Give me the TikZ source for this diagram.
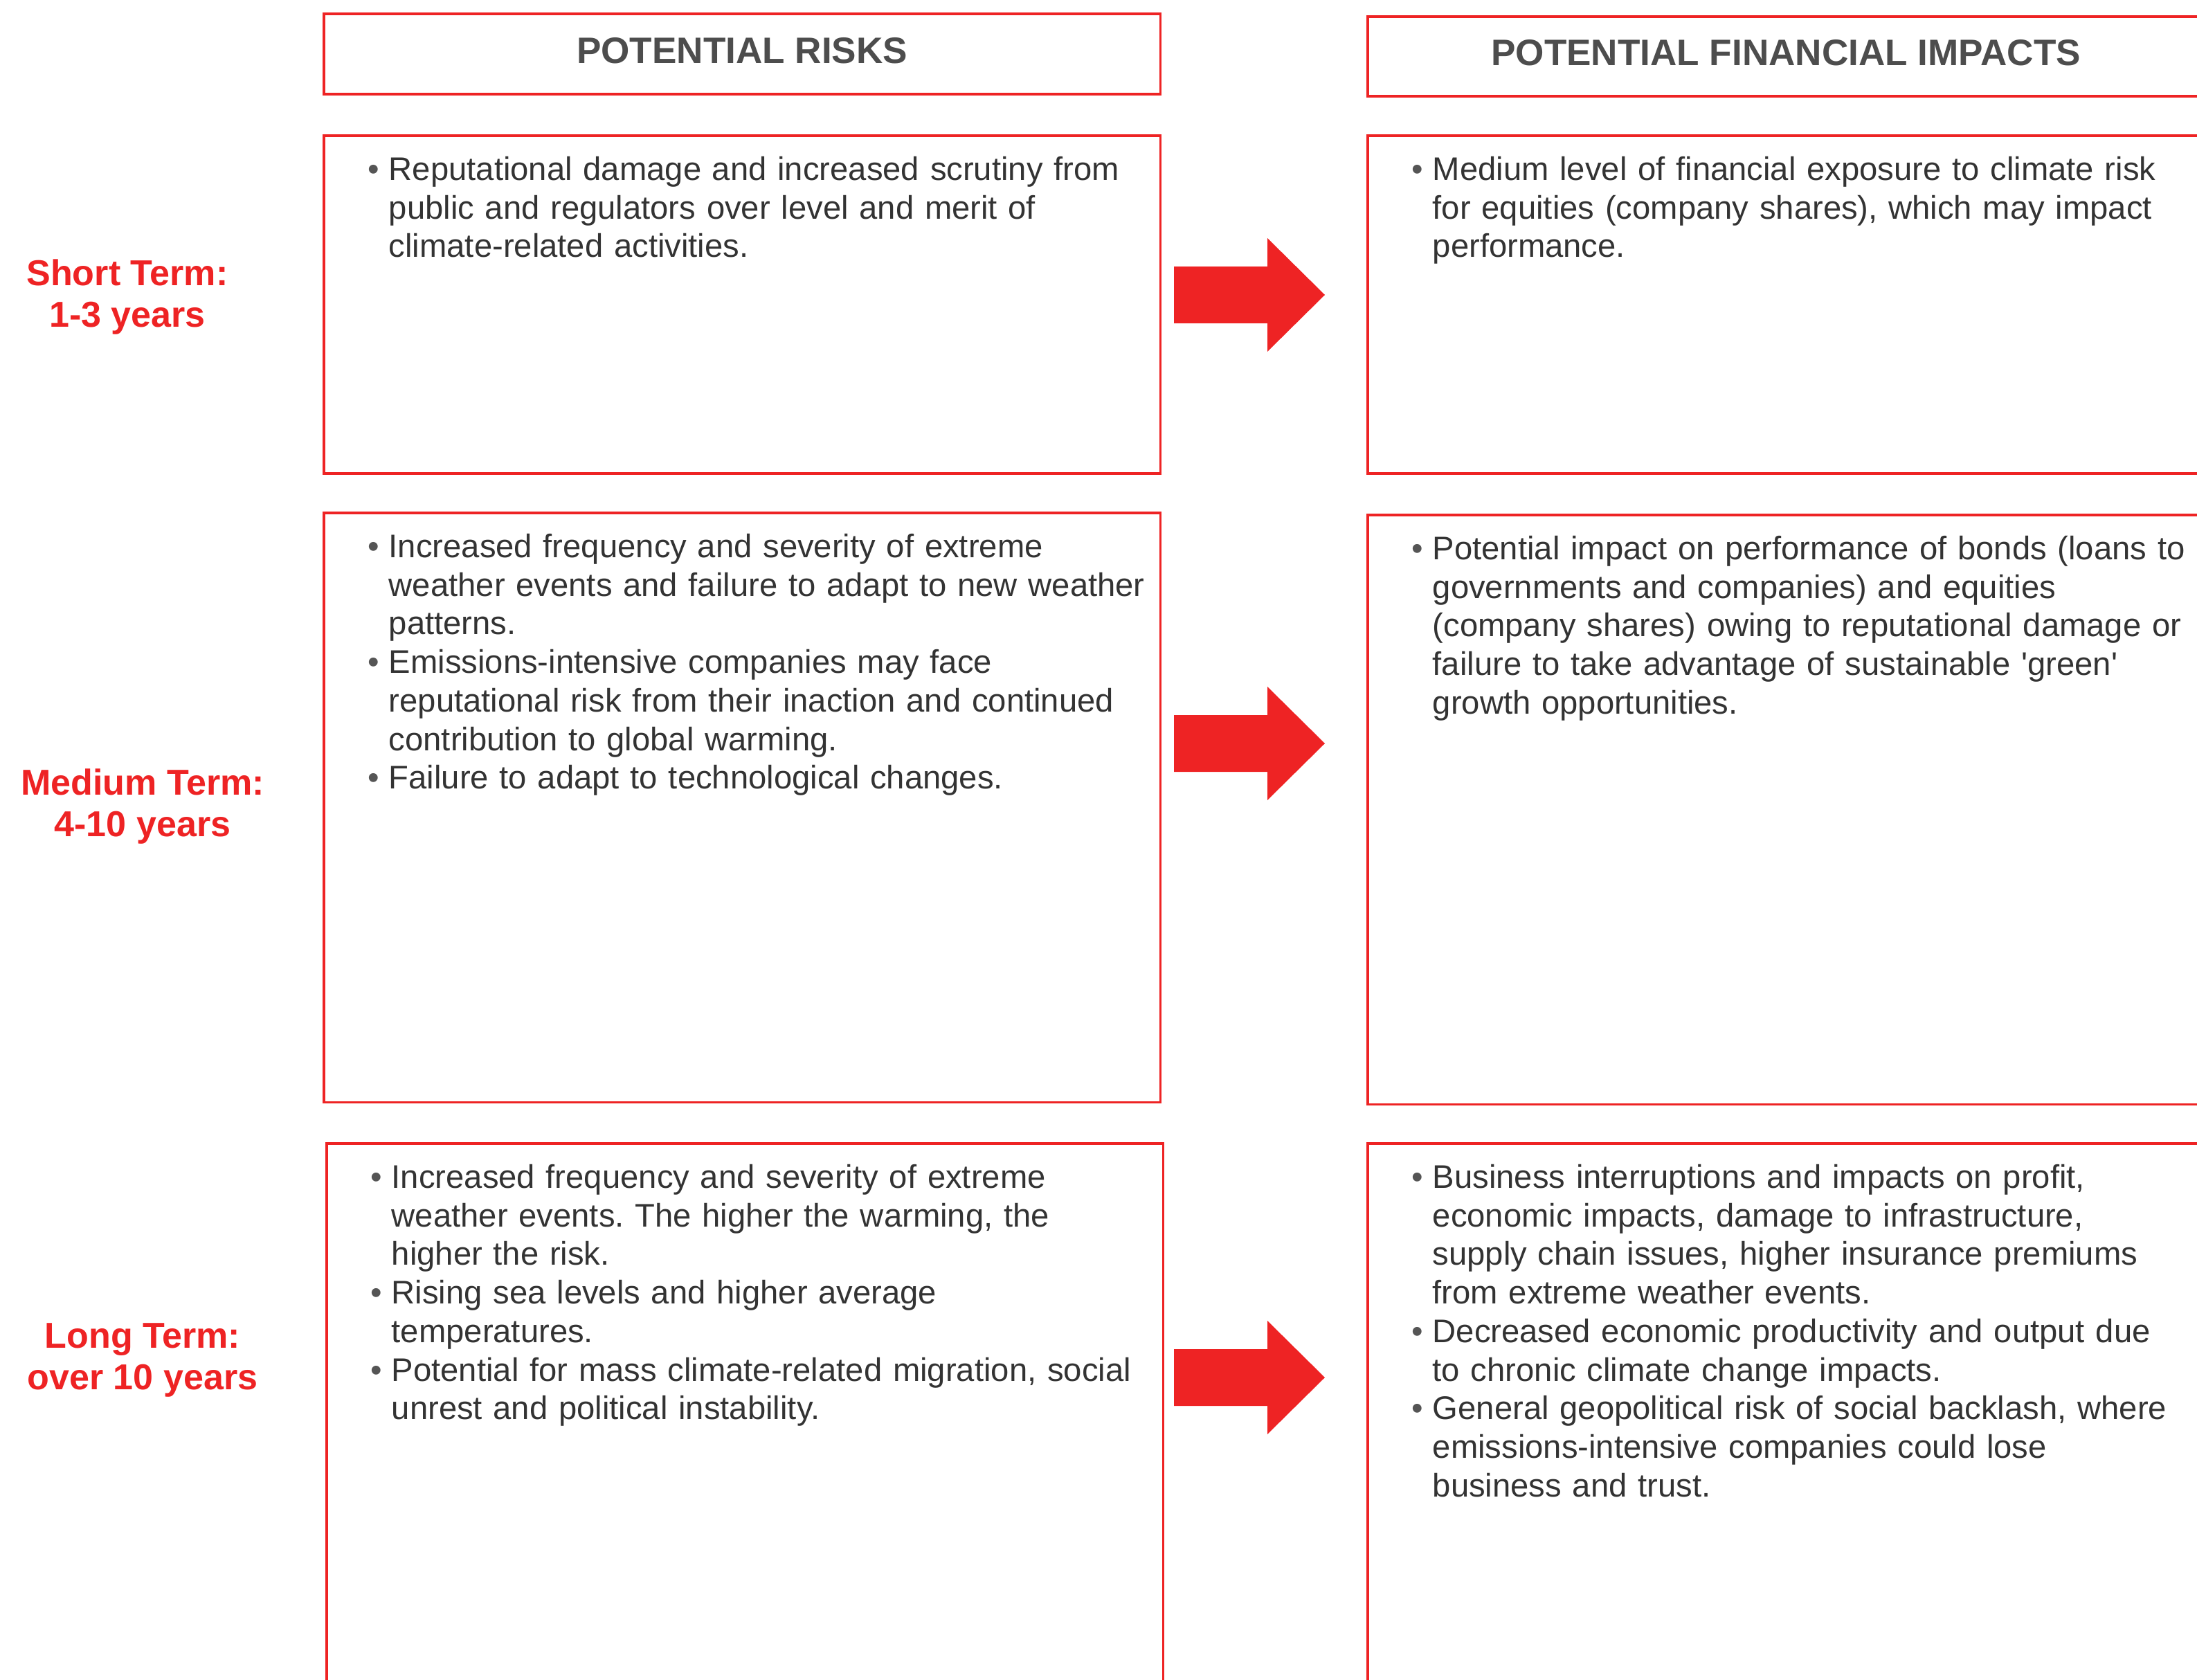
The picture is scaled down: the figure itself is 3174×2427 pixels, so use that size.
\documentclass[tikz,border=0pt]{standalone}
\usepackage{fontspec}
\setmainfont{Liberation Sans}
\usetikzlibrary{calc}
\usetikzlibrary{positioning}
\definecolor{riskred}{RGB}{238,35,36}
\definecolor{headgray}{RGB}{77,77,77}
\definecolor{bodygray}{RGB}{51,51,51}
\definecolor{bulletgray}{RGB}{85,85,85}
\newcommand\bodyfont{\fontsize{13.43}{15.85}\selectfont\frenchspacing}
\newcommand\headfont{\fontsize{15.1}{18}\selectfont\bfseries}
\newcommand\termfont{\fontsize{14.8}{17.1}\selectfont\bfseries}
\newcommand\bitem{
  \par\hangindent=0.25cm\hangafter=1\noindent\strut
  \makebox[0.25cm][l]{\hspace{-0.05cm}\textcolor{bulletgray}{\textbullet}}}
\newcommand\blockarrow[1]{
  \fill[riskred] (#1) ++(0,-41) -- ++(135,0) -- ++(0,-41) -- ++(83,82)
    -- ++(-83,82) -- ++(0,-41) -- ++(-135,0) -- cycle;
}

\begin{document}
\begin{tikzpicture}[x=0.01cm,y=-0.01cm,
  redbox/.style={draw=riskred,line width=1pt,inner sep=0pt,anchor=north west,minimum width=12.08cm},
  headbox/.style={redbox,minimum height=1.16cm,text height=0.38cm,text depth=0.11cm,font=\headfont,text=headgray},
  textblock/.style={inner sep=0pt,anchor=north west,text width=11.7cm,font=\bodyfont,text=bodygray},
  termlabel/.style={align=center,inner sep=0pt,font=\termfont,text=riskred}]
  \useasboundingbox (0,0) rectangle (3174,2427);
  \clip (0,0) rectangle (3174,2427);

  % column heads
  \node[headbox] (hdrrisk) at (466,18) {POTENTIAL RISKS};
  \node[headbox,minimum height=1.15cm] (hdrimpact) at (1974,22) {POTENTIAL FINANCIAL IMPACTS};

  % boxes
  \node[redbox,minimum height=4.88cm] (risk1) at (466,194) {};
  \node[redbox,minimum height=4.88cm] (impact1) at (1974,194) {};
  \node[redbox,minimum height=8.51cm] (risk2) at (466,739) {};
  \node[redbox,minimum height=8.51cm] (impact2) at (1974,742) {};
  \node[redbox,minimum height=8cm] (risk3) at (470,1650) {};
  \node[redbox,minimum height=8cm] (impact3) at (1974,1650) {};

  % time horizons
  \node[termlabel] (shortterm) at (184,429) {Short Term:\\1-3 years};
  \node[termlabel] (mediumterm) at (206,1165) {Medium Term:\\4-10 years};
  \node[termlabel] (longterm) at (206,1965) {Long Term:\\over 10 years};

  % box texts
  \node[textblock,below right=0.1cm and 0.7cm of risk1.north west] (risk1text) {%
    \bitem Reputational damage and increased scrutiny from\newline
    public and regulators over level and merit of\newline
    climate-related activities.\par};
  \node[textblock,below right=0.1cm and 0.7cm of impact1.north west] (impact1text) {%
    \bitem Medium level of financial exposure to climate risk\newline
    for equities (company shares), which may impact\newline
    performance.\par};
  \node[textblock,below right=0.1cm and 0.7cm of risk2.north west] (risk2text) {%
    \bitem Increased frequency and severity of extreme\newline
    weather events and failure to adapt to new weather\newline
    patterns.
    \bitem Emissions-intensive companies may face\newline
    reputational risk from their inaction and continued\newline
    contribution to global warming.
    \bitem Failure to adapt to technological changes.\par};
  \node[textblock,below right=0.1cm and 0.7cm of impact2.north west] (impact2text) {%
    \bitem Potential impact on performance of bonds (loans to\newline
    governments and companies) and equities\newline
    (company shares) owing to reputational damage or\newline
    failure to take advantage of sustainable \textquotesingle green\textquotesingle\newline
    growth opportunities.\par};
  \node[textblock,below right=0.1cm and 0.7cm of risk3.north west] (risk3text) {%
    \bitem Increased frequency and severity of extreme\newline
    weather events. The higher the warming, the\newline
    higher the risk.
    \bitem Rising sea levels and higher average\newline
    temperatures.
    \bitem Potential for mass climate-related migration, social\newline
    unrest and political instability.\par};
  \node[textblock,below right=0.1cm and 0.7cm of impact3.north west] (impact3text) {%
    \bitem Business interruptions and impacts on profit,\newline
    economic impacts, damage to infrastructure,\newline
    supply chain issues, higher insurance premiums\newline
    from extreme weather events.
    \bitem Decreased economic productivity and output due\newline
    to chronic climate change impacts.
    \bitem General geopolitical risk of social backlash, where\newline
    emissions-intensive companies could lose\newline
    business and trust.\par};

  % arrows
  \coordinate (arrow1) at (1696,426);
  \coordinate (arrow2) at (1696,1074);
  \coordinate (arrow3) at (1696,1990);
  \blockarrow{arrow1}
  \blockarrow{arrow2}
  \blockarrow{arrow3}
\end{tikzpicture}
\end{document}
